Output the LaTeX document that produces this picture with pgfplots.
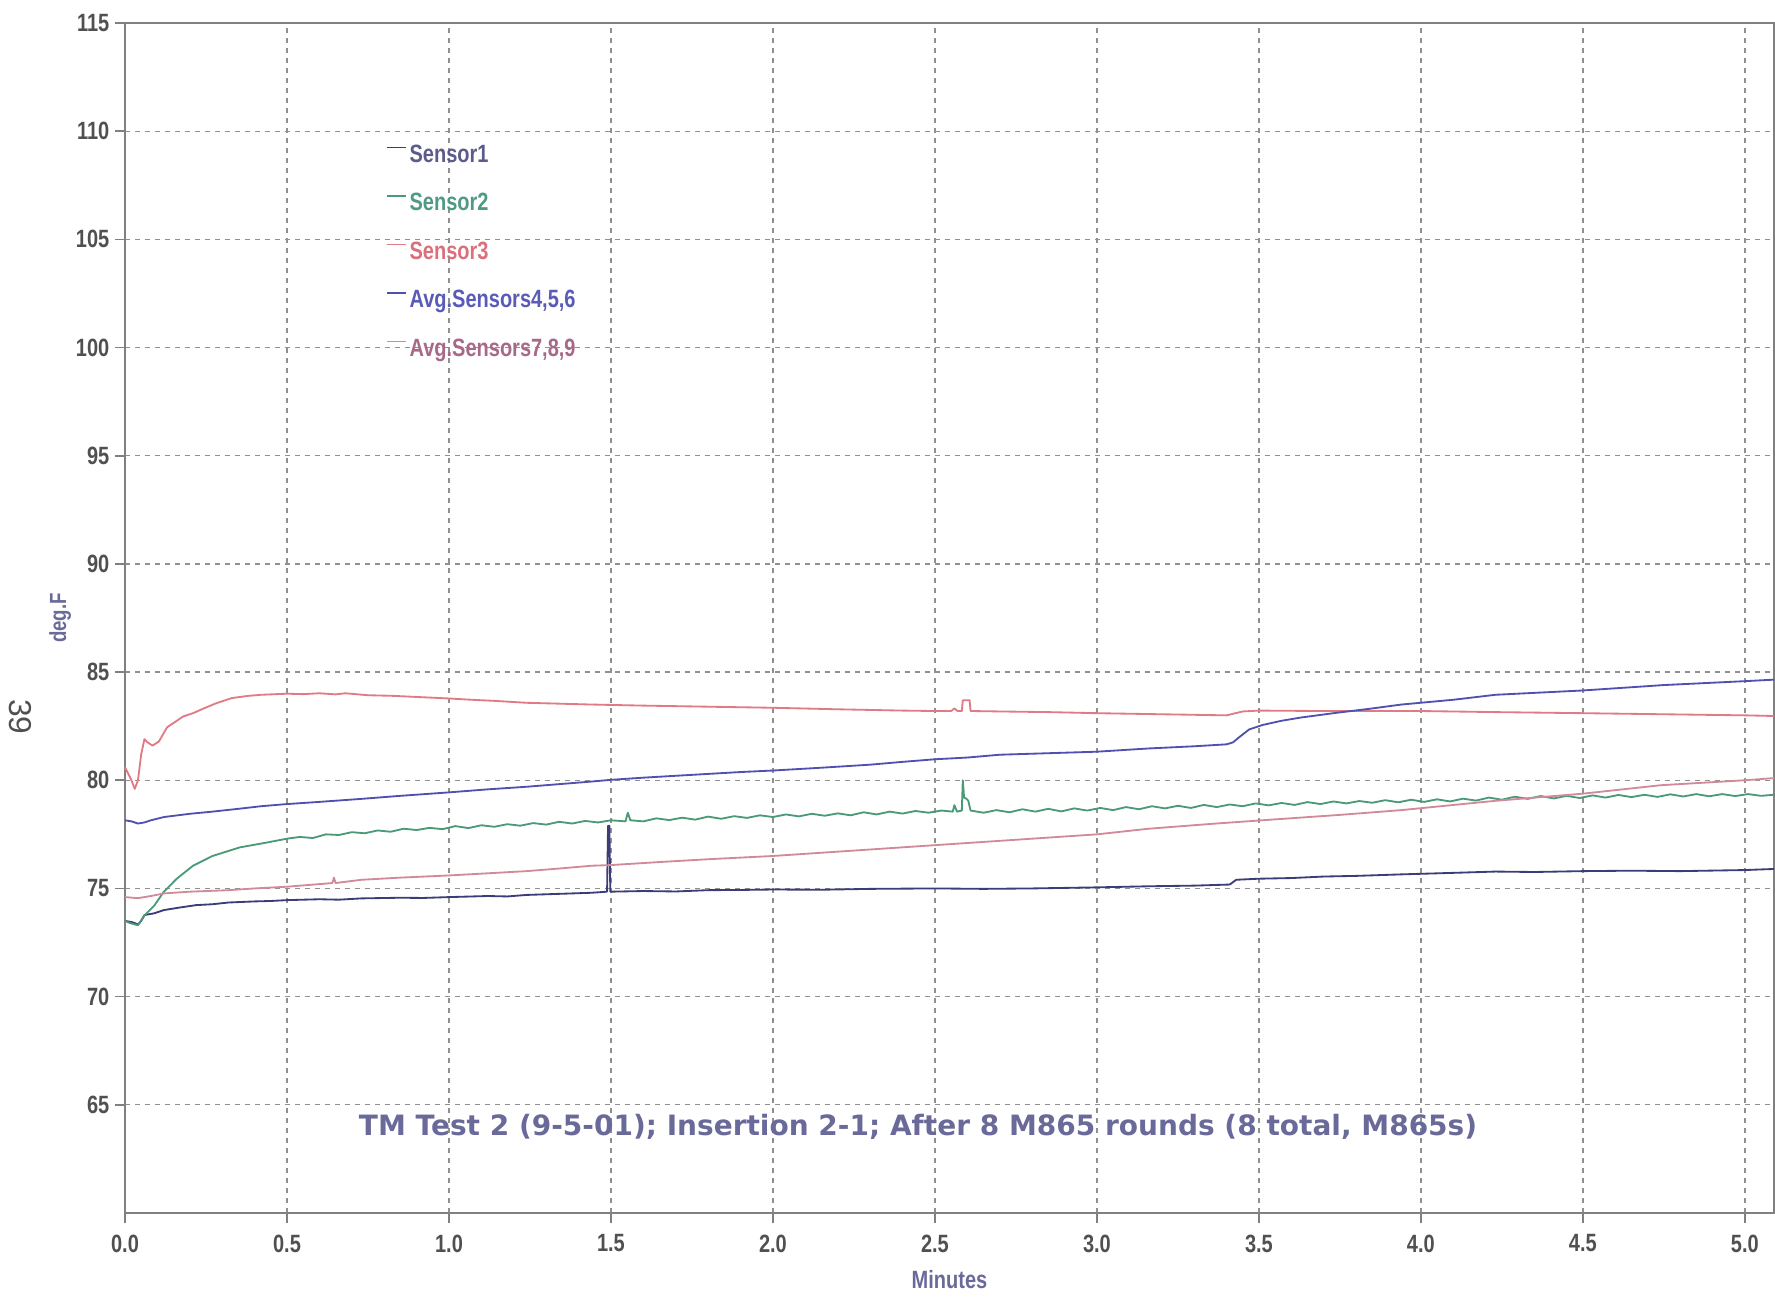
\documentclass[border=0pt]{standalone}
\usepackage{fontspec}
\setmainfont{Liberation Sans}[FakeStretch=0.8]
\newfontfamily\titlefont{DejaVu Sans}
\newfontfamily\plainfont{Liberation Sans}
\usepackage{pgfplots}
\pgfplotsset{compat=1.18}
\usetikzlibrary{calc}
\definecolor{cOne}{HTML}{3C3C78}
\definecolor{cTwo}{HTML}{4A9A78}
\definecolor{cThree}{HTML}{E07A84}
\definecolor{cFour}{HTML}{5050B0}
\definecolor{cFive}{HTML}{D08A9A}
\definecolor{tOne}{HTML}{5C5C8C}
\definecolor{tTwo}{HTML}{4F9A84}
\definecolor{tThree}{HTML}{D9707C}
\definecolor{tFour}{HTML}{5A5AB8}
\definecolor{tFive}{HTML}{A86888}
\definecolor{tickgray}{HTML}{505050}
\definecolor{axgray}{HTML}{808080}
\definecolor{gridgray}{HTML}{909090}
\definecolor{titlecol}{HTML}{6A6A9A}
\begin{document}
\begin{tikzpicture}
\begin{axis}[
  name=ax,
  width=494.7pt, height=357pt, scale only axis,
  xmin=0, xmax=5.09, ymin=60, ymax=115,
  xtick={0,0.5,...,5}, ytick={65,70,...,115},
  xticklabel style={/pgf/number format/.cd, fixed, fixed zerofill, precision=1},
  /pgf/number format/assume math mode=true,
  ticklabel style={font=\bfseries\fontsize{7.5}{9}\selectfont, text=tickgray},
  yticklabel style={inner sep=1.5pt},
  tick align=outside, tick pos=left, major tick length=3pt,
  every tick/.style={color=axgray, line width=0.5pt},
  axis line style={color=axgray, line width=0.6pt},
  grid=major,
  major grid style={dash pattern=on 1.5pt off 1.5pt, color=gridgray, line width=0.4pt},
  xlabel={Minutes}, ylabel={deg.F},
  xlabel style={font=\bfseries\fontsize{7.5}{9}\selectfont, text=titlecol, at={(axis description cs:0.5,0)}, anchor=center, yshift=-20pt},
  ylabel style={font=\bfseries\fontsize{7}{8}\selectfont, text=titlecol, at={(axis description cs:-0.0394,0.5)}, anchor=center},
  clip=false,
  legend style={draw=none, fill=none, at={(0.152,0.906)}, anchor=north west,
    font=\bfseries\fontsize{7.5}{9}\selectfont, row sep=6.2pt,
    nodes={inner sep=0.8pt}},
  legend cell align=left,
  legend image code/.code={\draw[#1, line width=0.5pt] (0cm,0.09cm) -- (0.2cm,0.09cm);},
  every axis plot/.append style={line width=0.55pt, line join=round},
]
\addplot[cOne] table {
0.000 73.5
0.020 73.45
0.030 73.4
0.040 73.33
0.050 73.5
0.060 73.77
0.090 73.85
0.120 74.0
0.170 74.12
0.220 74.23
0.270 74.27
0.320 74.35
0.400 74.4
0.450 74.42
0.500 74.46
0.600 74.5
0.660 74.48
0.730 74.54
0.850 74.57
0.920 74.56
1.000 74.6
1.120 74.65
1.180 74.63
1.240 74.7
1.340 74.75
1.440 74.8
1.488 74.85
1.491 77.9
1.495 77.9
1.498 74.85
1.600 74.88
1.700 74.86
1.800 74.92
1.900 74.93
2.000 74.95
2.150 74.94
2.300 74.98
2.500 75.0
2.650 74.98
2.800 75.0
3.000 75.05
3.160 75.1
3.300 75.13
3.410 75.18
3.430 75.4
3.500 75.45
3.600 75.48
3.700 75.55
3.800 75.58
3.940 75.65
4.100 75.72
4.230 75.78
4.350 75.76
4.500 75.8
4.650 75.82
4.800 75.8
5.000 75.85
5.090 75.9
};
\addlegendentry{\textcolor{tOne}{Sensor1}}
\addplot[cTwo] table {
0.000 73.5
0.015 73.4
0.040 73.3
0.060 73.75
0.090 74.2
0.120 74.85
0.160 75.45
0.210 76.05
0.270 76.5
0.355 76.9
0.430 77.1
0.50 77.30
0.54 77.38
0.58 77.33
0.62 77.50
0.66 77.47
0.70 77.60
0.74 77.55
0.78 77.68
0.82 77.62
0.86 77.76
0.90 77.70
0.94 77.80
0.98 77.74
1.02 77.88
1.06 77.79
1.10 77.92
1.14 77.85
1.18 77.97
1.22 77.90
1.26 78.02
1.30 77.95
1.34 78.08
1.38 78.00
1.42 78.12
1.46 78.05
1.50 78.15
1.545 78.10
1.552 78.50
1.560 78.15
1.60 78.10
1.64 78.24
1.68 78.16
1.72 78.27
1.76 78.18
1.80 78.32
1.84 78.22
1.88 78.34
1.92 78.26
1.96 78.38
2.00 78.30
2.04 78.42
2.08 78.33
2.12 78.45
2.16 78.36
2.20 78.47
2.24 78.38
2.28 78.52
2.32 78.42
2.36 78.55
2.40 78.46
2.44 78.58
2.48 78.50
2.52 78.60
2.555 78.55
2.560 78.85
2.568 78.55
2.583 78.6
2.586 80.0
2.590 79.2
2.597 79.15
2.603 79.05
2.610 78.6
2.65 78.50
2.69 78.62
2.73 78.52
2.77 78.66
2.81 78.55
2.85 78.68
2.89 78.56
2.93 78.70
2.97 78.60
3.01 78.72
3.05 78.62
3.09 78.76
3.13 78.66
3.17 78.80
3.21 78.70
3.25 78.82
3.29 78.72
3.33 78.86
3.37 78.76
3.41 78.88
3.45 78.80
3.49 78.93
3.53 78.84
3.57 78.95
3.61 78.86
3.65 78.99
3.69 78.90
3.73 79.02
3.77 78.93
3.81 79.04
3.85 78.96
3.89 79.08
3.93 78.98
3.97 79.10
4.01 79.00
4.05 79.12
4.09 79.02
4.13 79.15
4.17 79.06
4.21 79.20
4.25 79.10
4.29 79.24
4.33 79.14
4.37 79.27
4.41 79.16
4.45 79.28
4.49 79.18
4.53 79.30
4.57 79.20
4.61 79.32
4.65 79.22
4.69 79.33
4.73 79.23
4.77 79.35
4.81 79.25
4.85 79.36
4.89 79.26
4.93 79.36
4.97 79.27
5.01 79.36
5.05 79.28
5.09 79.33
};
\addlegendentry{\textcolor{tTwo}{Sensor2}}
\addplot[cThree] table {
0.000 80.6
0.010 80.3
0.020 80.0
0.030 79.6
0.040 80.0
0.050 81.2
0.060 81.9
0.070 81.75
0.085 81.6
0.105 81.8
0.130 82.45
0.155 82.7
0.180 82.95
0.210 83.1
0.240 83.3
0.280 83.55
0.330 83.8
0.380 83.9
0.420 83.95
0.500 84.0
0.550 83.98
0.600 84.02
0.650 83.97
0.680 84.02
0.750 83.93
0.830 83.9
0.900 83.85
1.000 83.78
1.070 83.72
1.140 83.67
1.240 83.58
1.340 83.54
1.440 83.5
1.600 83.45
1.800 83.4
2.000 83.35
2.200 83.28
2.400 83.22
2.500 83.2
2.550 83.2
2.560 83.32
2.570 83.2
2.583 83.2
2.586 83.7
2.607 83.7
2.610 83.2
2.700 83.18
2.850 83.15
3.000 83.1
3.200 83.05
3.400 83.0
3.450 83.18
3.500 83.22
3.700 83.2
4.000 83.2
4.230 83.15
4.500 83.1
4.750 83.05
5.000 83.0
5.090 82.97
};
\addlegendentry{\textcolor{tThree}{Sensor3}}
\addplot[cFour] table {
0.000 78.15
0.020 78.1
0.040 78.0
0.060 78.05
0.080 78.15
0.120 78.3
0.200 78.45
0.270 78.55
0.350 78.68
0.420 78.8
0.500 78.9
0.600 79.0
0.730 79.14
0.850 79.28
1.000 79.44
1.120 79.58
1.240 79.7
1.340 79.82
1.440 79.94
1.500 80.02
1.600 80.12
1.750 80.25
1.900 80.38
2.000 80.45
2.150 80.58
2.300 80.72
2.400 80.85
2.500 80.97
2.600 81.05
2.700 81.18
2.850 81.25
3.000 81.32
3.160 81.47
3.300 81.57
3.400 81.66
3.420 81.75
3.440 82.0
3.470 82.35
3.510 82.55
3.570 82.75
3.630 82.9
3.730 83.1
3.840 83.3
3.940 83.5
4.100 83.72
4.230 83.95
4.500 84.15
4.750 84.4
5.000 84.58
5.090 84.65
};
\addlegendentry{\textcolor{tFour}{Avg.Sensors4,5,6}}
\addplot[cFive] table {
0.000 74.6
0.040 74.55
0.080 74.65
0.120 74.77
0.200 74.85
0.320 74.92
0.400 75.0
0.500 75.08
0.600 75.2
0.640 75.25
0.645 75.5
0.650 75.25
0.730 75.4
0.850 75.5
1.000 75.6
1.120 75.7
1.240 75.8
1.340 75.92
1.440 76.05
1.500 76.08
1.650 76.22
1.800 76.35
2.000 76.5
2.250 76.75
2.500 77.0
2.750 77.25
3.000 77.5
3.160 77.76
3.350 77.98
3.500 78.14
3.750 78.4
3.940 78.62
4.230 79.05
4.500 79.38
4.740 79.77
5.000 80.0
5.090 80.1
};
\addlegendentry{\textcolor{tFive}{Avg.Sensors7,8,9}}
\node[font=\titlefont\bfseries\fontsize{8.4}{10}\selectfont, text=titlecol] at (axis cs:2.448,64.0)
  {TM Test 2 (9-5-01); Insertion 2-1; After 8 M865 rounds (8 total, M865s)};
\end{axis}
\node[rotate=-90, font=\plainfont\fontsize{9.5}{11}\selectfont, text=tickgray] at ($(ax.south west)+(-31.5pt,148.8pt)$) {39};
\pgfresetboundingbox
\path ($(ax.south west)+(-37.5pt,-25.2pt)$) rectangle ($(ax.north east)+(0.3pt,6.9pt)$);
\end{tikzpicture}
\end{document}
